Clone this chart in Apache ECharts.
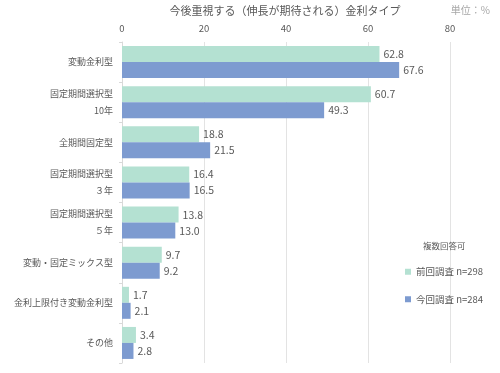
<!DOCTYPE html>
<html><head><meta charset="utf-8">
<script src="https://cdn.jsdelivr.net/npm/echarts@6/dist/echarts.min.js"></script>
<style>html,body{margin:0;padding:0;background:#fff}#c{width:500px;height:373px}</style>
</head><body><div id="c"></div>
<script>
const categories = ['変動金利型', '固定期間選択型\n10年', '全期間固定型', '固定期間選択型\n３年', '固定期間選択型\n５年', '変動・固定ミックス型', '金利上限付き変動金利型', 'その他'];
const seriesNames = ['前回調査 n=298', '今回調査 n=284'];
const prevValues = [62.8, 60.7, 18.8, 16.4, 13.8, 9.7, 1.7, 3.4];
const currValues = [67.6, 49.3, 21.5, 16.5, 13.0, 9.2, 2.1, 2.8];
const FONT = '"Noto Sans CJK JP", "Noto Sans", sans-serif';
const LABEL_SIZE = 9;
// left-side spacer (px) so that the second line sits centred under the first
const secondLinePad = {'10年': 27, '３年': 24, '５年': 24};
function catFormatter(v) {
  const lines = v.split('\n');
  if (lines.length === 1) return '{c|' + v + '}';
  return lines.map(function (l, i) {
    if (i === 0) return '{c|' + l + '}';
    return '{p' + (secondLinePad[l] || 0) + '| }{c|' + l + '}';
  }).join('\n');
}
const richStyles = {c: {fontSize: LABEL_SIZE, lineHeight: 17, color: '#595959', fontFamily: FONT}};
Object.keys(secondLinePad).forEach(function (k) {
  const w = secondLinePad[k];
  richStyles['p' + w] = {width: w, fontSize: LABEL_SIZE, lineHeight: 17};
});
const chart = echarts.init(document.getElementById('c'), null, {renderer: 'canvas'});
chart.setOption({
  animation: false,
  backgroundColor: '#fff',
  textStyle: {fontFamily: FONT},
  title: [
    {text: '今後重視する（伸長が期待される）金利タイプ', left: 280, top: 0, textAlign: 'center',
     textStyle: {fontSize: 11, fontWeight: 'normal', color: '#595959', fontFamily: FONT}},
    {text: '単位：%', right: 5, top: 0, textStyle: {fontSize: 10, fontWeight: 'normal', color: '#a6a6a6', fontFamily: FONT}},
    {text: '複数回答可', left: 418, top: 237, textStyle: {fontSize: 8.5, fontWeight: 'normal', color: '#595959', fontFamily: FONT}}
  ],
  legend: {
    orient: 'vertical', left: 400, top: 262, itemWidth: 6, itemHeight: 6, itemGap: 18, icon: 'rect', itemTextGap: 4,
    textStyle: {fontSize: 9.5, color: '#595959', fontFamily: FONT}, itemStyle: {borderWidth: 0}
  },
  grid: {left: 122, right: 50, top: 42, bottom: 10, containLabel: false},
  xAxis: {
    type: 'value', position: 'top', min: 0, max: 80, interval: 20,
    axisLine: {show: false}, axisTick: {show: false},
    splitLine: {lineStyle: {color: '#e3e3e3', width: 1}},
    axisLabel: {fontSize: 9.5, color: '#595959', margin: 9, fontFamily: FONT}
  },
  yAxis: {
    type: 'category', inverse: true, data: categories,
    axisLine: {lineStyle: {color: '#d9d9d9'}},
    axisTick: {show: true, length: 3, lineStyle: {color: '#d9d9d9'}},
    axisLabel: {margin: 9, color: '#595959', fontSize: LABEL_SIZE, fontFamily: FONT, lineHeight: 17,
      formatter: catFormatter, rich: richStyles}
  },
  series: [
    {name: seriesNames[0], type: 'bar', data: prevValues, barWidth: 16, barGap: '0%',
     itemStyle: {color: '#b4e1d2'},
     label: {show: true, position: 'right', distance: 4, fontSize: 10.5, color: '#595959', fontFamily: FONT, formatter: function (p) { return p.value.toFixed(1); }}},
    {name: seriesNames[1], type: 'bar', data: currValues, barWidth: 16,
     itemStyle: {color: '#7d9bd0'},
     label: {show: true, position: 'right', distance: 4, fontSize: 10.5, color: '#595959', fontFamily: FONT, formatter: function (p) { return p.value.toFixed(1); }}}
  ]
});
</script></body></html>
